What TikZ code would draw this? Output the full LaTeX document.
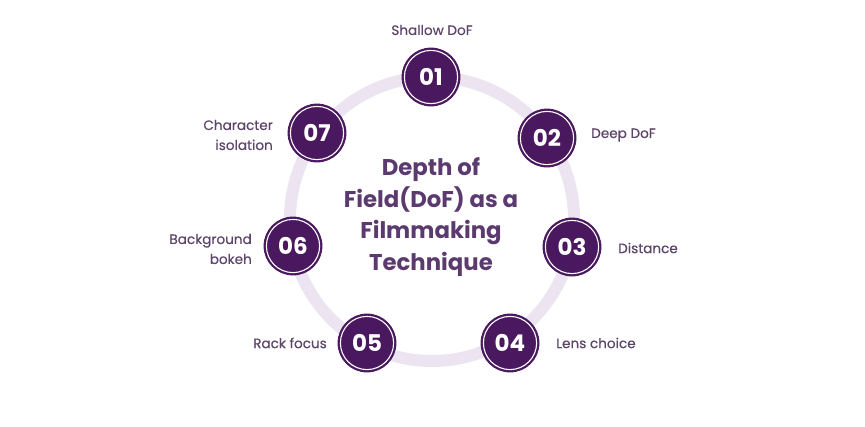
\documentclass[tikz,border=0pt]{standalone}
\usepackage{fontspec}
\setmainfont{Poppins}
\newfontfamily\labfont[FakeBold=0.25]{Poppins}
\definecolor{ringc}{HTML}{ECE4F1}
\definecolor{dotc}{HTML}{4A185E}
\definecolor{labc}{HTML}{5C4569}
\definecolor{titc}{HTML}{5B3A6F}
\tikzset{
  numdot/.style={circle, fill=dotc, draw=dotc, line width=0.8pt, minimum size=58pt, inner sep=0pt,
    text=white, font=\fontsize{23}{23}\selectfont\bfseries,
    path picture={\draw[white, line width=1.1pt] (path picture bounding box.center) circle (26.6pt);}},
  lab/.style={text=labc, font=\labfont\fontsize{13.6}{20}\selectfont, inner sep=0pt},
}
\begin{document}
\begin{tikzpicture}[x=1pt,y=-1pt]
\useasboundingbox[fill=white] (0,0) rectangle (865,426);
\draw[ringc, line width=12pt] (432,219) circle (142);
\node[numdot] (c1) at (431,77) {01};
\node[numdot] (c2) at (547,138) {02};
\node[numdot] (c3) at (572,247) {03};
\node[numdot] (c4) at (510,343) {04};
\node[numdot] (c5) at (367,343) {05};
\node[numdot] (c6) at (293,246) {06};
\node[numdot] (c7) at (317,133) {07};
\node[lab] (l1) at (432,30) {Shallow DoF};
\node[lab, anchor=west] (l2) at (591,135) {Deep DoF};
\node[lab, anchor=west] (l3) at (618,248) {Distance};
\node[lab, anchor=west] (l4) at (556,343) {Lens choice};
\node[lab, anchor=east] (l5) at (327,343) {Rack focus};
\node[lab, anchor=east, align=right] (l6) at (252,249) {Background\\bokeh};
\node[lab, anchor=east, align=right] (l7) at (273,135) {Character\\isolation};
\node[text=titc, font=\fontsize{22.8}{31.7}\selectfont\bfseries, align=center, inner sep=0pt] (t) at (431,217)
  {Depth of\\Field(DoF) as a\\Filmmaking\\Technique};
\end{tikzpicture}
\end{document}
